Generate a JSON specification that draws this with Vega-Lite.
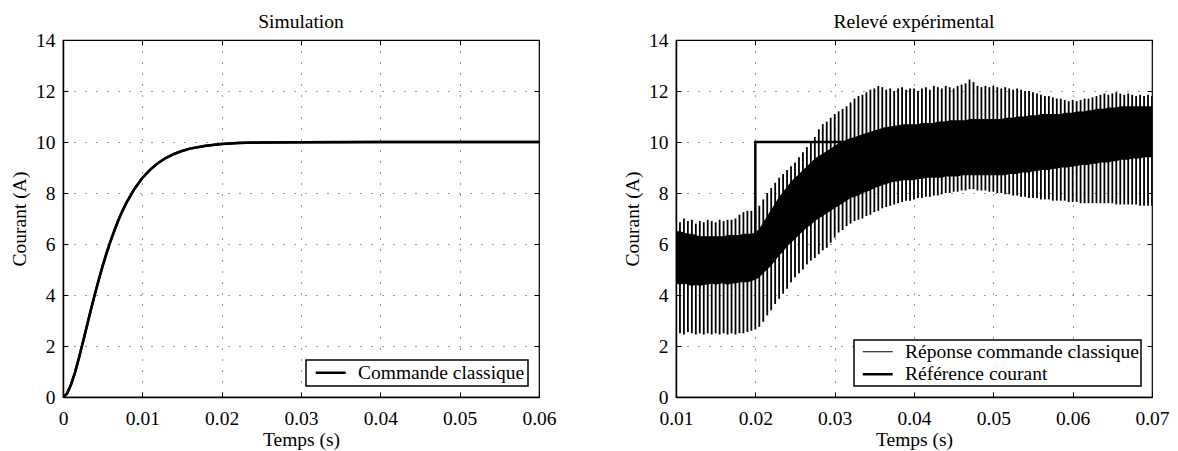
{
  "$schema": "https://vega.github.io/schema/vega-lite/v6.json",
  "padding": {"left": 8, "top": 10, "right": 5, "bottom": 0},
  "background": "white",
  "datasets": {
    "sim": [
      {"t": 0, "y": 0, "s": "Commande classique"},
      {"t": 0.0005, "y": 0.13, "s": "Commande classique"},
      {"t": 0.001, "y": 0.48, "s": "Commande classique"},
      {"t": 0.0015, "y": 0.95, "s": "Commande classique"},
      {"t": 0.002, "y": 1.52, "s": "Commande classique"},
      {"t": 0.0025, "y": 2.14, "s": "Commande classique"},
      {"t": 0.003, "y": 2.77, "s": "Commande classique"},
      {"t": 0.0035, "y": 3.4, "s": "Commande classique"},
      {"t": 0.004, "y": 4.01, "s": "Commande classique"},
      {"t": 0.0045, "y": 4.59, "s": "Commande classique"},
      {"t": 0.005, "y": 5.14, "s": "Commande classique"},
      {"t": 0.0055, "y": 5.65, "s": "Commande classique"},
      {"t": 0.006, "y": 6.12, "s": "Commande classique"},
      {"t": 0.0065, "y": 6.55, "s": "Commande classique"},
      {"t": 0.007, "y": 6.95, "s": "Commande classique"},
      {"t": 0.0075, "y": 7.3, "s": "Commande classique"},
      {"t": 0.008, "y": 7.62, "s": "Commande classique"},
      {"t": 0.009, "y": 8.16, "s": "Commande classique"},
      {"t": 0.01, "y": 8.59, "s": "Commande classique"},
      {"t": 0.011, "y": 8.92, "s": "Commande classique"},
      {"t": 0.012, "y": 9.18, "s": "Commande classique"},
      {"t": 0.013, "y": 9.38, "s": "Commande classique"},
      {"t": 0.014, "y": 9.53, "s": "Commande classique"},
      {"t": 0.015, "y": 9.65, "s": "Commande classique"},
      {"t": 0.016, "y": 9.74, "s": "Commande classique"},
      {"t": 0.018, "y": 9.85, "s": "Commande classique"},
      {"t": 0.02, "y": 9.92, "s": "Commande classique"},
      {"t": 0.022, "y": 9.96, "s": "Commande classique"},
      {"t": 0.025, "y": 9.98, "s": "Commande classique"},
      {"t": 0.03, "y": 9.99, "s": "Commande classique"},
      {"t": 0.04, "y": 10, "s": "Commande classique"},
      {"t": 0.06, "y": 10, "s": "Commande classique"}
    ],
    "ref": [
      {"i": 0, "t": 0.01, "y": 5, "s": "Référence courant"},
      {"i": 1, "t": 0.02, "y": 5, "s": "Référence courant"},
      {"i": 2, "t": 0.02, "y": 10, "s": "Référence courant"},
      {"i": 3, "t": 0.07, "y": 10, "s": "Référence courant"}
    ],
    "exp": [
      {"t": 0.01, "top": 6.95, "bot": 2.55, "hi": 6.5, "lo": 4.45},
      {"t": 0.0105, "top": 6.85, "bot": 2.5, "hi": 6.5, "lo": 4.4},
      {"t": 0.011, "top": 7.0, "bot": 2.45, "hi": 6.45, "lo": 4.45},
      {"t": 0.0115, "top": 6.9, "bot": 2.55, "hi": 6.4, "lo": 4.4},
      {"t": 0.012, "top": 6.95, "bot": 2.5, "hi": 6.4, "lo": 4.35},
      {"t": 0.0125, "top": 6.8, "bot": 2.45, "hi": 6.35, "lo": 4.4},
      {"t": 0.013, "top": 6.9, "bot": 2.5, "hi": 6.3, "lo": 4.35},
      {"t": 0.0135, "top": 6.85, "bot": 2.45, "hi": 6.3, "lo": 4.4},
      {"t": 0.014, "top": 6.95, "bot": 2.5, "hi": 6.3, "lo": 4.4},
      {"t": 0.0145, "top": 6.9, "bot": 2.45, "hi": 6.3, "lo": 4.45},
      {"t": 0.015, "top": 6.85, "bot": 2.5, "hi": 6.3, "lo": 4.4},
      {"t": 0.0155, "top": 6.95, "bot": 2.45, "hi": 6.3, "lo": 4.45},
      {"t": 0.016, "top": 6.9, "bot": 2.5, "hi": 6.3, "lo": 4.45},
      {"t": 0.0165, "top": 6.95, "bot": 2.45, "hi": 6.35, "lo": 4.4},
      {"t": 0.017, "top": 6.95, "bot": 2.5, "hi": 6.35, "lo": 4.45},
      {"t": 0.0175, "top": 7.0, "bot": 2.45, "hi": 6.35, "lo": 4.45},
      {"t": 0.018, "top": 7.15, "bot": 2.5, "hi": 6.35, "lo": 4.5},
      {"t": 0.0185, "top": 7.25, "bot": 2.5, "hi": 6.4, "lo": 4.5},
      {"t": 0.019, "top": 7.3, "bot": 2.55, "hi": 6.4, "lo": 4.5},
      {"t": 0.0195, "top": 7.3, "bot": 2.6, "hi": 6.4, "lo": 4.55},
      {"t": 0.02, "top": 7.3, "bot": 2.65, "hi": 6.45, "lo": 4.6},
      {"t": 0.0205, "top": 7.5, "bot": 2.75, "hi": 6.6, "lo": 4.7},
      {"t": 0.021, "top": 7.75, "bot": 2.95, "hi": 6.85, "lo": 4.85},
      {"t": 0.0215, "top": 8.0, "bot": 3.2, "hi": 7.1, "lo": 5.0},
      {"t": 0.022, "top": 8.2, "bot": 3.4, "hi": 7.35, "lo": 5.15},
      {"t": 0.0225, "top": 8.4, "bot": 3.65, "hi": 7.6, "lo": 5.35},
      {"t": 0.023, "top": 8.6, "bot": 3.85, "hi": 7.85, "lo": 5.55},
      {"t": 0.0235, "top": 8.75, "bot": 4.05, "hi": 8.05, "lo": 5.7},
      {"t": 0.024, "top": 8.9, "bot": 4.25, "hi": 8.25, "lo": 5.9},
      {"t": 0.0245, "top": 9.05, "bot": 4.5, "hi": 8.45, "lo": 6.05},
      {"t": 0.025, "top": 9.2, "bot": 4.7, "hi": 8.6, "lo": 6.2},
      {"t": 0.0255, "top": 9.4, "bot": 4.85, "hi": 8.75, "lo": 6.35},
      {"t": 0.026, "top": 9.6, "bot": 5.0, "hi": 8.9, "lo": 6.5},
      {"t": 0.0265, "top": 9.8, "bot": 5.2, "hi": 9.05, "lo": 6.65},
      {"t": 0.027, "top": 10.0, "bot": 5.35, "hi": 9.2, "lo": 6.75},
      {"t": 0.0275, "top": 10.2, "bot": 5.45, "hi": 9.35, "lo": 6.9},
      {"t": 0.028, "top": 10.5, "bot": 5.6, "hi": 9.45, "lo": 7.0},
      {"t": 0.0285, "top": 10.7, "bot": 5.75, "hi": 9.55, "lo": 7.1},
      {"t": 0.029, "top": 10.8, "bot": 5.85, "hi": 9.65, "lo": 7.2},
      {"t": 0.0295, "top": 10.95, "bot": 6.05, "hi": 9.75, "lo": 7.3},
      {"t": 0.03, "top": 11.1, "bot": 6.25, "hi": 9.85, "lo": 7.4},
      {"t": 0.0305, "top": 11.2, "bot": 6.45, "hi": 9.95, "lo": 7.5},
      {"t": 0.031, "top": 11.3, "bot": 6.55, "hi": 10.0, "lo": 7.6},
      {"t": 0.0315, "top": 11.4, "bot": 6.7, "hi": 10.1, "lo": 7.7},
      {"t": 0.032, "top": 11.55, "bot": 6.8, "hi": 10.15, "lo": 7.8},
      {"t": 0.0325, "top": 11.7, "bot": 6.9, "hi": 10.2, "lo": 7.85},
      {"t": 0.033, "top": 11.8, "bot": 6.95, "hi": 10.25, "lo": 7.9},
      {"t": 0.0335, "top": 11.85, "bot": 7.0, "hi": 10.3, "lo": 8.0},
      {"t": 0.034, "top": 11.95, "bot": 7.1, "hi": 10.35, "lo": 8.05},
      {"t": 0.0345, "top": 12.05, "bot": 7.15, "hi": 10.4, "lo": 8.1},
      {"t": 0.035, "top": 12.1, "bot": 7.25, "hi": 10.45, "lo": 8.2},
      {"t": 0.0355, "top": 12.2, "bot": 7.3, "hi": 10.5, "lo": 8.25},
      {"t": 0.036, "top": 12.15, "bot": 7.4, "hi": 10.55, "lo": 8.3},
      {"t": 0.0365, "top": 12.05, "bot": 7.45, "hi": 10.6, "lo": 8.35},
      {"t": 0.037, "top": 12.1, "bot": 7.5, "hi": 10.6, "lo": 8.4},
      {"t": 0.0375, "top": 12.0, "bot": 7.55, "hi": 10.65, "lo": 8.45},
      {"t": 0.038, "top": 12.1, "bot": 7.6, "hi": 10.65, "lo": 8.45},
      {"t": 0.0385, "top": 12.15, "bot": 7.65, "hi": 10.7, "lo": 8.5},
      {"t": 0.039, "top": 12.05, "bot": 7.7, "hi": 10.7, "lo": 8.5},
      {"t": 0.0395, "top": 12.1, "bot": 7.7, "hi": 10.7, "lo": 8.5},
      {"t": 0.04, "top": 12.1, "bot": 7.75, "hi": 10.7, "lo": 8.5},
      {"t": 0.0405, "top": 12.0, "bot": 7.8, "hi": 10.7, "lo": 8.55},
      {"t": 0.041, "top": 12.1, "bot": 7.8, "hi": 10.75, "lo": 8.55},
      {"t": 0.0415, "top": 12.15, "bot": 7.85, "hi": 10.75, "lo": 8.6},
      {"t": 0.042, "top": 12.05, "bot": 7.85, "hi": 10.75, "lo": 8.6},
      {"t": 0.0425, "top": 12.2, "bot": 7.9, "hi": 10.75, "lo": 8.6},
      {"t": 0.043, "top": 12.15, "bot": 7.9, "hi": 10.8, "lo": 8.6},
      {"t": 0.0435, "top": 12.1, "bot": 7.95, "hi": 10.8, "lo": 8.6},
      {"t": 0.044, "top": 12.2, "bot": 8.0, "hi": 10.8, "lo": 8.65},
      {"t": 0.0445, "top": 12.15, "bot": 8.0, "hi": 10.85, "lo": 8.65},
      {"t": 0.045, "top": 12.1, "bot": 8.05, "hi": 10.85, "lo": 8.65},
      {"t": 0.0455, "top": 12.2, "bot": 8.05, "hi": 10.85, "lo": 8.65},
      {"t": 0.046, "top": 12.25, "bot": 8.1, "hi": 10.85, "lo": 8.7},
      {"t": 0.0465, "top": 12.3, "bot": 8.1, "hi": 10.85, "lo": 8.7},
      {"t": 0.047, "top": 12.45, "bot": 8.15, "hi": 10.9, "lo": 8.7},
      {"t": 0.0475, "top": 12.35, "bot": 8.15, "hi": 10.9, "lo": 8.7},
      {"t": 0.048, "top": 12.2, "bot": 8.1, "hi": 10.9, "lo": 8.7},
      {"t": 0.0485, "top": 12.15, "bot": 8.1, "hi": 10.9, "lo": 8.7},
      {"t": 0.049, "top": 12.2, "bot": 8.1, "hi": 10.9, "lo": 8.7},
      {"t": 0.0495, "top": 12.15, "bot": 8.05, "hi": 10.9, "lo": 8.7},
      {"t": 0.05, "top": 12.2, "bot": 8.05, "hi": 10.9, "lo": 8.7},
      {"t": 0.0505, "top": 12.15, "bot": 8.0, "hi": 10.9, "lo": 8.7},
      {"t": 0.051, "top": 12.1, "bot": 8.0, "hi": 10.9, "lo": 8.7},
      {"t": 0.0515, "top": 12.15, "bot": 7.95, "hi": 10.95, "lo": 8.7},
      {"t": 0.052, "top": 12.1, "bot": 7.95, "hi": 10.95, "lo": 8.75},
      {"t": 0.0525, "top": 12.05, "bot": 7.9, "hi": 10.95, "lo": 8.75},
      {"t": 0.053, "top": 12.1, "bot": 7.9, "hi": 11.0, "lo": 8.75},
      {"t": 0.0535, "top": 12.05, "bot": 7.85, "hi": 11.0, "lo": 8.8},
      {"t": 0.054, "top": 12.0, "bot": 7.85, "hi": 11.0, "lo": 8.8},
      {"t": 0.0545, "top": 12.0, "bot": 7.8, "hi": 11.05, "lo": 8.8},
      {"t": 0.055, "top": 11.95, "bot": 7.8, "hi": 11.05, "lo": 8.85},
      {"t": 0.0555, "top": 11.9, "bot": 7.8, "hi": 11.05, "lo": 8.85},
      {"t": 0.056, "top": 11.85, "bot": 7.75, "hi": 11.1, "lo": 8.9},
      {"t": 0.0565, "top": 11.8, "bot": 7.75, "hi": 11.1, "lo": 8.9},
      {"t": 0.057, "top": 11.8, "bot": 7.75, "hi": 11.1, "lo": 8.9},
      {"t": 0.0575, "top": 11.75, "bot": 7.7, "hi": 11.1, "lo": 8.95},
      {"t": 0.058, "top": 11.7, "bot": 7.7, "hi": 11.1, "lo": 8.95},
      {"t": 0.0585, "top": 11.7, "bot": 7.7, "hi": 11.1, "lo": 9.0},
      {"t": 0.059, "top": 11.65, "bot": 7.7, "hi": 11.15, "lo": 9.0},
      {"t": 0.0595, "top": 11.6, "bot": 7.65, "hi": 11.15, "lo": 9.0},
      {"t": 0.06, "top": 11.65, "bot": 7.65, "hi": 11.15, "lo": 9.05},
      {"t": 0.0605, "top": 11.6, "bot": 7.65, "hi": 11.2, "lo": 9.05},
      {"t": 0.061, "top": 11.65, "bot": 7.6, "hi": 11.2, "lo": 9.1},
      {"t": 0.0615, "top": 11.7, "bot": 7.6, "hi": 11.2, "lo": 9.1},
      {"t": 0.062, "top": 11.7, "bot": 7.6, "hi": 11.25, "lo": 9.1},
      {"t": 0.0625, "top": 11.75, "bot": 7.6, "hi": 11.25, "lo": 9.15},
      {"t": 0.063, "top": 11.8, "bot": 7.6, "hi": 11.3, "lo": 9.15},
      {"t": 0.0635, "top": 11.85, "bot": 7.6, "hi": 11.3, "lo": 9.2},
      {"t": 0.064, "top": 11.9, "bot": 7.6, "hi": 11.3, "lo": 9.2},
      {"t": 0.0645, "top": 11.85, "bot": 7.6, "hi": 11.35, "lo": 9.2},
      {"t": 0.065, "top": 11.9, "bot": 7.6, "hi": 11.35, "lo": 9.25},
      {"t": 0.0655, "top": 11.95, "bot": 7.55, "hi": 11.35, "lo": 9.25},
      {"t": 0.066, "top": 11.9, "bot": 7.55, "hi": 11.4, "lo": 9.3},
      {"t": 0.0665, "top": 11.85, "bot": 7.55, "hi": 11.4, "lo": 9.3},
      {"t": 0.067, "top": 11.9, "bot": 7.55, "hi": 11.4, "lo": 9.3},
      {"t": 0.0675, "top": 11.85, "bot": 7.55, "hi": 11.4, "lo": 9.35},
      {"t": 0.068, "top": 11.8, "bot": 7.55, "hi": 11.4, "lo": 9.35},
      {"t": 0.0685, "top": 11.85, "bot": 7.5, "hi": 11.4, "lo": 9.35},
      {"t": 0.069, "top": 11.8, "bot": 7.5, "hi": 11.4, "lo": 9.4},
      {"t": 0.0695, "top": 11.85, "bot": 7.5, "hi": 11.4, "lo": 9.4},
      {"t": 0.07, "top": 11.8, "bot": 7.5, "hi": 11.4, "lo": 9.4}
    ]
  },
  "hconcat": [
    {
      "width": 476,
      "height": 357,
      "title": {"text": "Simulation"},
      "data": {"name": "sim"},
      "resolve": {"axis": {"x": "independent", "y": "independent"}},
      "layer": [
        {
          "mark": {"type": "line", "strokeWidth": 2.5, "clip": true},
          "encoding": {
            "x": {"field": "t", "type": "quantitative", "scale": {"domain": [0, 0.06], "nice": false, "zero": false},
                  "axis": {"title": "Temps (s)", "values": [0, 0.01, 0.02, 0.03, 0.04, 0.05, 0.06], "format": "~g", "grid": true}},
            "y": {"field": "y", "type": "quantitative", "scale": {"domain": [0, 14], "nice": false},
                  "axis": {"title": "Courant (A)", "values": [0, 2, 4, 6, 8, 10, 12, 14], "grid": true}},
            "color": {"field": "s", "type": "nominal", "scale": {"domain": ["Commande classique"], "range": ["black"]},
                  "legend": {"title": null, "symbolStrokeWidth": 2.5}}
          }
        },
        {
          "mark": {"type": "line", "color": "black", "strokeWidth": 2.5, "clip": true},
          "encoding": {
            "x": {"field": "t", "type": "quantitative",
                  "axis": {"orient": "top", "title": null, "labels": false, "domain": false, "grid": false, "values": [0, 0.01, 0.02, 0.03, 0.04, 0.05, 0.06]}},
            "y": {"field": "y", "type": "quantitative",
                  "axis": {"orient": "right", "title": null, "labels": false, "domain": false, "grid": false, "values": [0, 2, 4, 6, 8, 10, 12, 14]}}
          }
        }
      ]
    },
    {
      "width": 476,
      "height": 357,
      "title": {"text": "Relevé expérimental"},
      "resolve": {"axis": {"x": "independent", "y": "independent"}},
      "layer": [
        {
          "data": {"name": "exp"},
          "mark": {"type": "area", "color": "black", "opacity": 1, "clip": true},
          "encoding": {
            "x": {"field": "t", "type": "quantitative", "scale": {"domain": [0.01, 0.07], "nice": false, "zero": false},
                  "axis": {"title": "Temps (s)", "values": [0.01, 0.02, 0.03, 0.04, 0.05, 0.06, 0.07], "format": "~g", "grid": true}},
            "y": {"field": "lo", "type": "quantitative", "scale": {"domain": [0, 14], "nice": false},
                  "axis": {"title": "Courant (A)", "values": [0, 2, 4, 6, 8, 10, 12, 14], "grid": true}},
            "y2": {"field": "hi"}
          }
        },
        {
          "data": {"name": "exp"},
          "mark": {"type": "rule", "color": "black", "strokeWidth": 1.8, "clip": true},
          "encoding": {
            "x": {"field": "t", "type": "quantitative", "axis": null},
            "y": {"field": "bot", "type": "quantitative", "axis": null},
            "y2": {"field": "top"}
          }
        },
        {
          "data": {"name": "ref"},
          "mark": {"type": "line", "color": "black", "clip": true},
          "encoding": {
            "x": {"field": "t", "type": "quantitative",
                  "axis": {"orient": "top", "title": null, "labels": false, "domain": false, "grid": false, "values": [0.01, 0.02, 0.03, 0.04, 0.05, 0.06, 0.07]}},
            "y": {"field": "y", "type": "quantitative",
                  "axis": {"orient": "right", "title": null, "labels": false, "domain": false, "grid": false, "values": [0, 2, 4, 6, 8, 10, 12, 14]}},
            "order": {"field": "i"},
            "strokeWidth": {"field": "s", "type": "nominal",
                  "scale": {"domain": ["Réponse commande classique", "Référence courant"], "range": [1, 2.5]},
                  "legend": {"title": null, "rowPadding": 1.5, "padding": 2}}
          }
        }
      ]
    }
  ],
  "resolve": {"scale": {"x": "independent", "strokeWidth": "independent", "color": "independent"}, "legend": {"strokeWidth": "independent", "color": "independent"}},
  "spacing": 64,
  "config": {
    "font": "Liberation Serif",
    "view": {"stroke": "black", "strokeWidth": 1.2},
    "title": {"font": "Liberation Serif", "fontSize": 19.5, "fontWeight": "normal", "color": "black", "anchor": "middle", "offset": -2},
    "axis": {
      "labelFont": "Liberation Serif", "titleFont": "Liberation Serif",
      "labelFontSize": 19.5, "titleFontSize": 19.5, "titleFontWeight": "normal",
      "labelColor": "black", "titleColor": "black",
      "domainColor": "black", "domainWidth": 1.5,
      "tickColor": "black", "tickSize": -5, "tickWidth": 1,
      "labelPadding": 13, "titlePadding": 6,
      "gridColor": "black", "gridDash": [1, 10], "gridOpacity": 0.8, "gridWidth": 1,
      "labelFlush": false, "labelOverlap": false
    },
    "axisBottom": {"labelPadding": 17, "titlePadding": 3},
    "legend": {
      "orient": "bottom-right", "offset": 11,
      "strokeColor": "black", "strokeWidth": 1.5, "fillColor": "white", "padding": 3,
      "labelFont": "Liberation Serif", "labelFontSize": 19.5, "labelColor": "black", "labelLimit": 500,
      "labelOffset": 17.5, "symbolOffset": 12,
      "symbolType": "M-2,0H2", "symbolStrokeColor": "black", "symbolSize": 225
    }
  }
}
